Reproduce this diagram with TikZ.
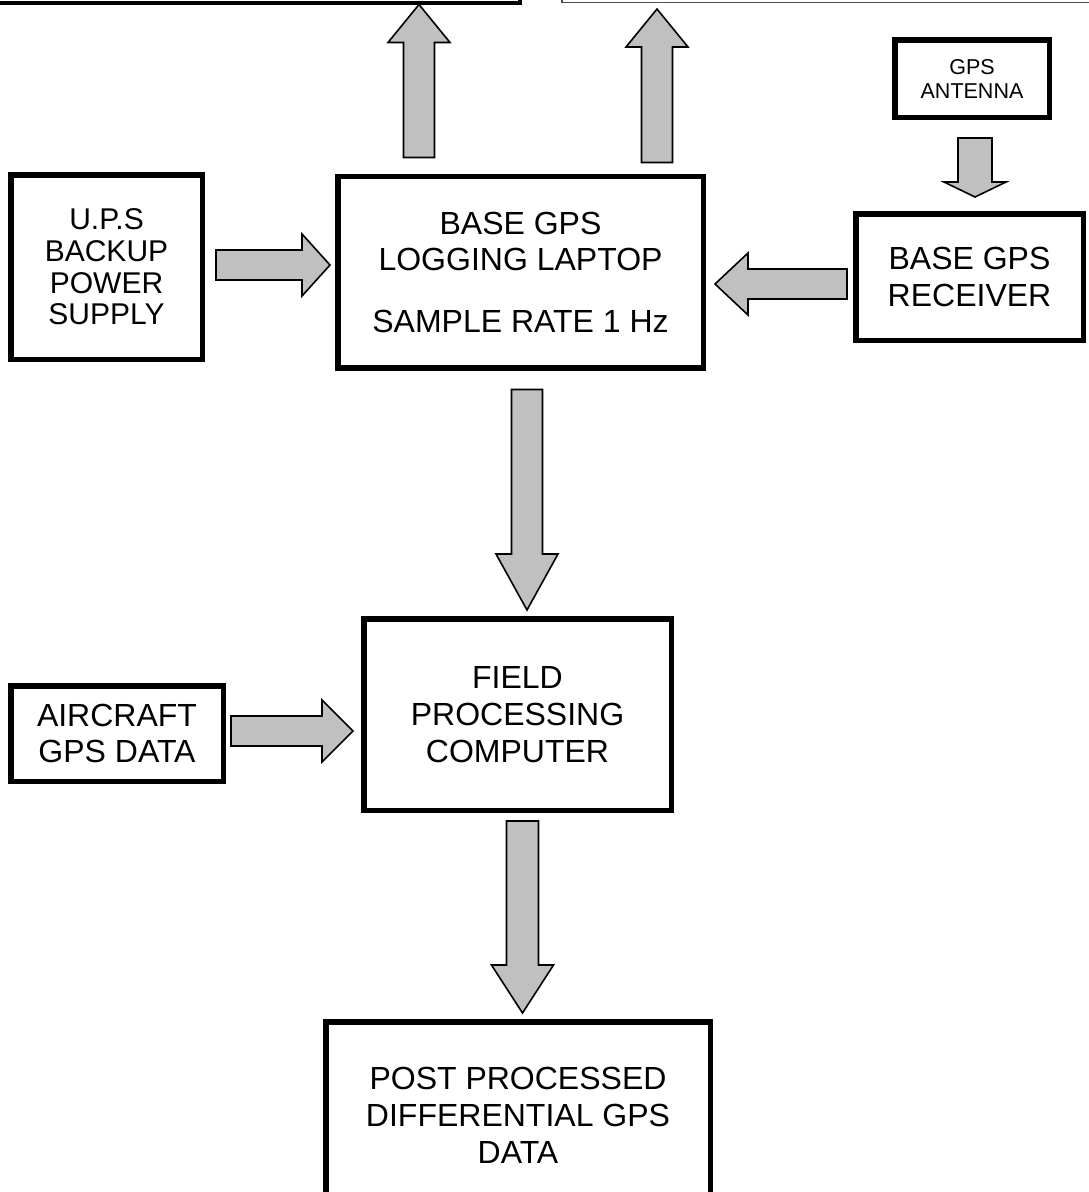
\documentclass[tikz,border=0pt]{standalone}
\usepackage{fontspec}
\setmainfont{Liberation Sans}
\usetikzlibrary{calc}

\definecolor{arrowgray}{HTML}{C0C0C0}

\newcommand\bigtext{\fontsize{32}{36.7}\selectfont}
\newcommand\upstext{\fontsize{30}{31.7}\selectfont}
\newcommand\smalltext{\fontsize{21.5}{24}\selectfont}

% Block arrow: #1 head length, #2 half shaft width, #3 tail centre, #4 tip
\newcommand\fatarrow[4]{%
  \coordinate (fa-h) at ($(#4)!#1pt!(#3)$);
  \filldraw[fat]
    ($(#3)!#2pt!90:(#4)$) -- ($(fa-h)!#2pt!-90:(#3)$) -- ($(fa-h)!31pt!-90:(#3)$)
    -- (#4)
    -- ($(fa-h)!31pt!90:(#3)$) -- ($(fa-h)!#2pt!90:(#3)$) -- ($(#3)!#2pt!-90:(#4)$)
    -- cycle;
}

\tikzset{
  box/.style={draw=black, line width=5.5pt, fill=white, align=center,
              inner sep=0pt, font=\bigtext},
  fat/.style={fill=arrowgray, draw=black, line width=1.6pt, line join=miter},
}

\begin{document}
\begin{tikzpicture}[x=1pt, y=-1pt]
  \useasboundingbox (0,0) rectangle (1089,1192);
  \fill[white] (0,0) rectangle (1089,1192);
  \clip (0,0) rectangle (1089,1192);

  % boxes running off the top edge
  \node[draw=black, line width=4pt, minimum width=640pt, minimum height=205pt]
    (topL) at (200,-100) {};
  \node[draw=black!70, line width=1.5pt, minimum width=676.5pt, minimum height=204.5pt]
    (topR) at (900,-100) {};

  % blocks
  \node[box, font=\upstext, minimum width=191.5pt, minimum height=184.5pt]
    (ups) at (106.5,267) {U.P.S\\BACKUP\\POWER\\SUPPLY};
  \node[box, minimum width=365.5pt, minimum height=191.5pt]
    (laptop) at (520.5,272) {BASE GPS\\LOGGING LAPTOP\\[24.6pt]SAMPLE RATE 1 Hz};
  \node[box, minimum width=227.5pt, minimum height=126.5pt]
    (receiver) at (969.5,277) {BASE GPS\\RECEIVER};
  \node[box, font=\smalltext, minimum width=154.5pt, minimum height=77.5pt]
    (antenna) at (972,78.5) {GPS\\ANTENNA};
  \node[box, minimum width=307.5pt, minimum height=191.5pt]
    (field) at (517.5,714.5) {FIELD\\PROCESSING\\COMPUTER};
  \node[box, minimum width=212.5pt, minimum height=95.5pt]
    (aircraft) at (117,733.5) {AIRCRAFT\\GPS DATA};
  \node[box, minimum width=384.5pt, minimum height=187.5pt]
    (post) at (518,1115.5) {POST PROCESSED\\DIFFERENTIAL GPS\\DATA};

  % arrow end points
  \coordinate (upsT)  at ($(ups.east)+(11,-2)$);
  \coordinate (upsH)  at ($(laptop.west)+(-5,-7)$);
  \coordinate (rcvT)  at ($(receiver.west)+(-6,7)$);
  \coordinate (rcvH)  at ($(laptop.east)+(9,12)$);
  \coordinate (antT)  at ($(antenna.south)+(3,18)$);
  \coordinate (antH)  at ($(receiver.north)+(5.5,-14)$);
  \coordinate (upLT)  at ($(laptop.north)+(-101.5,-16)$);
  \coordinate (upLH)  at (upLT |- topL.south);
  \coordinate (upRT)  at ($(laptop.north)+(136.5,-11)$);
  \coordinate (upRH)  at ($(upRT |- topR.south)+(0,6)$);
  \coordinate (lapT)  at ($(laptop.south)+(6.5,19)$);
  \coordinate (lapH)  at ($(field.north)+(9.5,-6)$);
  \coordinate (airT)  at ($(aircraft.east)+(5,-2.5)$);
  \coordinate (airH)  at ($(field.west)+(-8,16.5)$);
  \coordinate (fldT)  at ($(field.south)+(5,8)$);
  \coordinate (fldH)  at ($(post.north)+(4.5,-6)$);

  % block arrows
  \fatarrow{28}{15}{upsT}{upsH}
  \fatarrow{33}{15}{rcvT}{rcvH}
  \fatarrow{15}{17}{antT}{antH}
  \fatarrow{38}{15.5}{upLT}{upLH}
  \fatarrow{38}{15.5}{upRT}{upRH}
  \fatarrow{56}{15.5}{lapT}{lapH}
  \fatarrow{31}{15}{airT}{airH}
  \fatarrow{48}{16}{fldT}{fldH}
\end{tikzpicture}
\end{document}
